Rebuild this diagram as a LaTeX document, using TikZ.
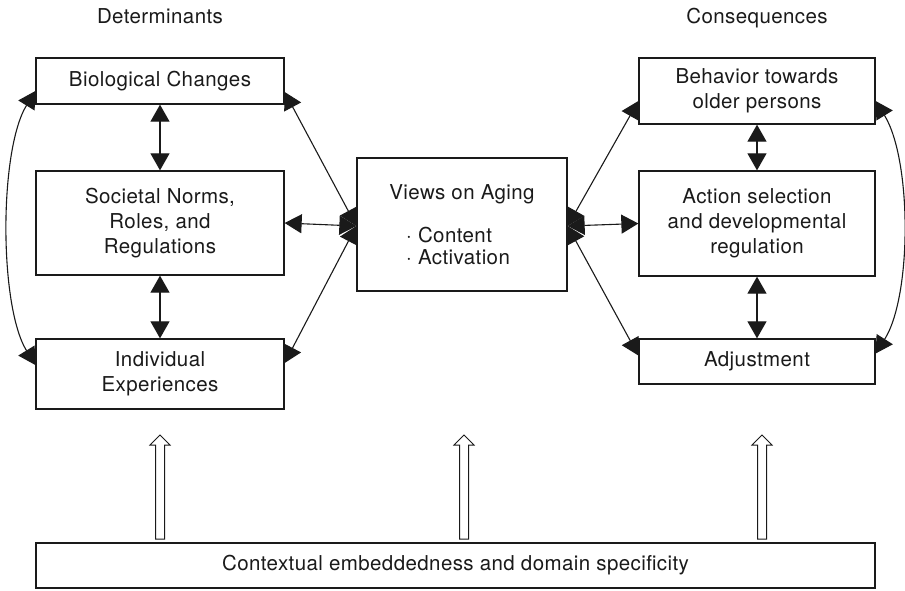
\documentclass[tikz,border=0pt]{standalone}
\usepackage{fontspec}
\setmainfont{TeX Gyre Heros}[LetterSpace=2.0]
\usetikzlibrary{arrows.meta,calc}
\definecolor{ink}{HTML}{1A1A1A}
\tikzset{
  box/.style={draw=ink, line width=1.3pt, fill=white, minimum width=#1, inner sep=0pt, align=center, text=ink, font=\fontsize{20.5}{25}\selectfont},
  txt/.style={inner sep=0pt, text=ink, font=\fontsize{20.5}{25}\selectfont},
  tip/.tip={Triangle[length=17pt,width=19pt]},
  dbl/.style={draw=ink, line width=1.1pt, {tip}-{tip}},
  hollow/.style={draw=ink, line width=1pt, fill=white, line join=miter},
}
\begin{document}
\begin{tikzpicture}[x=1pt,y=-1pt]
\useasboundingbox (0,0) rectangle (905,590);
% titles
\node[txt, anchor=base] (tdet) at (160,23) {Determinants};
\node[txt, anchor=base] (tcon) at (757,23) {Consequences};
% left boxes
\node[box=248pt, minimum height=46pt] (bio) at (160,81) {Biological Changes};
\node[box=248pt, minimum height=104pt] (soc) at (160,223) {Societal Norms,\\Roles, and\\Regulations};
\node[box=248pt, minimum height=70pt] (ind) at (160,374) {Individual\\Experiences};
% center
\node[box=210pt, minimum height=133pt] (view) at (462,224.5) {};
\node[txt, anchor=base] (vtitle) at (462,199) {Views on Aging};
\node[txt, anchor=base west] (vcont) at (406,242) {· Content};
\node[txt, anchor=base west] (vact) at (406,264) {· Activation};
% right boxes
\node[box=236pt, minimum height=66pt] (beh) at (757,91) {Behavior towards\\older persons};
\node[box=236pt, minimum height=105pt] (act) at (757,223.5) {Action selection\\and developmental\\regulation};
\node[box=236pt, minimum height=45pt] (adj) at (757,361.5) {Adjustment};
% bottom
\node[box=839pt, minimum height=45pt] (ctx) at (455.5,565.5) {Contextual embeddedness and domain specificity};
% vertical double arrows
\draw[dbl] (bio.south) -- (soc.north);
\draw[dbl] (soc.south) -- (ind.north);
\draw[dbl] (beh.south) -- (act.north);
\draw[dbl] (act.south) -- (adj.north);
% center connectors
\coordinate (vl) at ([yshift=-1.5pt]view.west);
\coordinate (vr) at ([yshift=-1.5pt]view.east);
\draw[dbl] (vl) -- ([yshift=-11pt]bio.east);
\draw[dbl] (vl) -- (soc.east);
\draw[dbl] (vl) -- ([yshift=11pt]ind.east);
\draw[dbl] (vr) -- ([yshift=-10pt]beh.west);
\draw[dbl] (vr) -- (act.west);
\draw[dbl] (vr) -- ([yshift=6pt]adj.west);
% curved side arrows
\coordinate (lt) at ([yshift=-10pt]bio.west);
\coordinate (lb) at ([yshift=9pt]ind.west);
\draw[dbl] (lt) .. controls (-1,150) and (-1,306) .. (lb);
\coordinate (rt) at ([yshift=-10pt]beh.east);
\coordinate (rb) at ([yshift=8pt]adj.east);
\draw[dbl] (rt) .. controls (912,160) and (912,296) .. (rb);
% hollow arrows from context box
\foreach \n/\x in {h1/160,h2/464,h3/762}{
  \coordinate (\n) at (\x,539);
  \draw[hollow] (\n) -- +(-4.5,0) -- +(-4.5,-94) -- +(-10,-94) -- +(0,-104) -- +(10,-94) -- +(4.5,-94) -- +(4.5,0) -- cycle;
}
\end{tikzpicture}
\end{document}
